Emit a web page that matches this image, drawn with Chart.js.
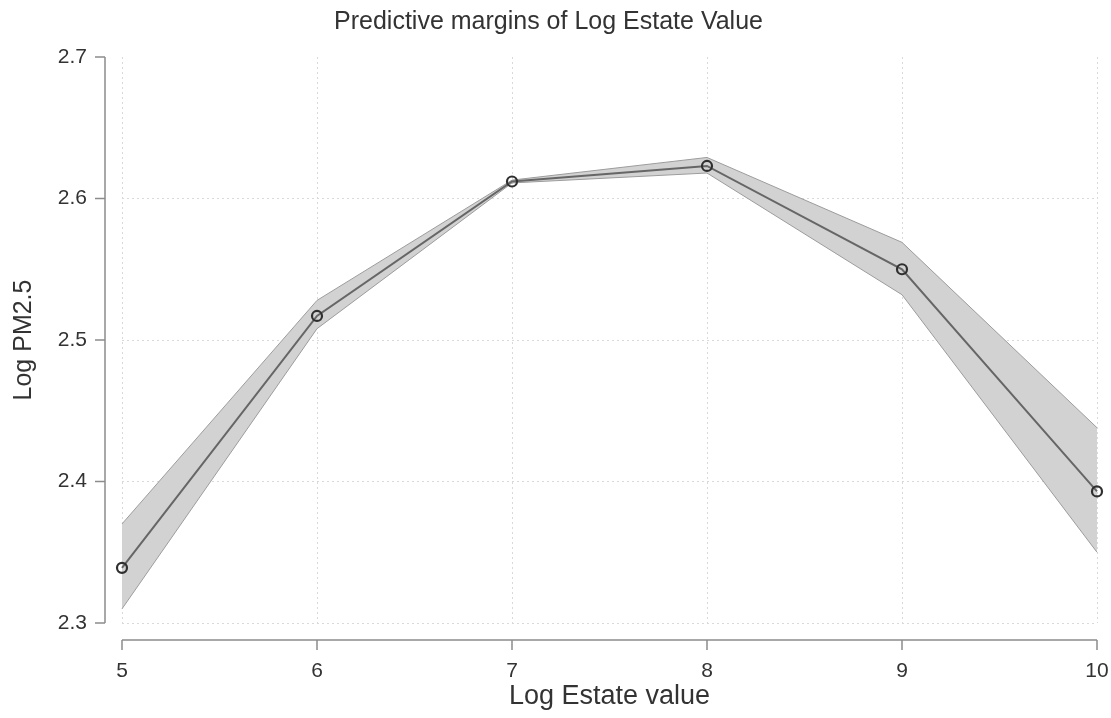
<!DOCTYPE html>
<html>
<head>
<meta charset="utf-8">
<script src="https://cdn.jsdelivr.net/npm/chart.js@4"></script>
<style>
  html, body { margin: 0; padding: 0; background: #fff; }
  #wrap { width: 1111px; height: 718px; }
</style>
</head>
<body>
<div id="wrap"><canvas id="c"></canvas></div>
<script>
const estateValues = [5, 6, 7, 8, 9, 10]
const margin = [2.339, 2.517, 2.612, 2.623, 2.550, 2.393]
const upperCI = [2.370, 2.528, 2.613, 2.629, 2.569, 2.438]
const lowerCI = [2.310, 2.508, 2.611, 2.618, 2.532, 2.350]
const yTicks = [2.3, 2.4, 2.5, 2.6, 2.7]
const xTicks = [5, 6, 7, 8, 9, 10]

const font = 'Arial, "Liberation Sans", sans-serif'
const axisColor = '#8c8c8c'
const gridColor = '#d9d9d9'
const pts = (vals) => estateValues.map((x, i) => ({ x: x, y: vals[i] }))

// Stata-like axes that sit a little away from the plot region
const offsetAxes = {
  id: 'offsetAxes',
  afterDraw(chart) {
    const { ctx, scales } = chart
    const xs = scales.x
    const ys = scales.y
    const gap = 17
    const tick = 10
    const ax = chart.chartArea.left - gap
    const ay = chart.chartArea.bottom + gap
    ctx.save()
    ctx.strokeStyle = axisColor
    ctx.lineWidth = 1.5
    ctx.beginPath()
    ctx.moveTo(ax, ys.getPixelForValue(yTicks[0]))
    ctx.lineTo(ax, ys.getPixelForValue(yTicks[yTicks.length - 1]))
    for (const v of yTicks) {
      const py = ys.getPixelForValue(v)
      ctx.moveTo(ax, py)
      ctx.lineTo(ax - tick, py)
    }
    ctx.moveTo(xs.getPixelForValue(xTicks[0]), ay)
    ctx.lineTo(xs.getPixelForValue(xTicks[xTicks.length - 1]), ay)
    for (const v of xTicks) {
      const px = xs.getPixelForValue(v)
      ctx.moveTo(px, ay)
      ctx.lineTo(px, ay + tick)
    }
    ctx.stroke()
    ctx.restore()
  },
}

new Chart(document.getElementById('c'), {
  type: 'line',
  data: {
    datasets: [
      {
        label: 'upper',
        data: pts(upperCI),
        borderColor: '#9c9c9c',
        borderWidth: 1,
        backgroundColor: '#d2d2d2',
        fill: '+1',
        pointRadius: 0,
        tension: 0,
        order: 2,
      },
      {
        label: 'lower',
        data: pts(lowerCI),
        borderColor: '#9c9c9c',
        borderWidth: 1,
        pointRadius: 0,
        fill: false,
        tension: 0,
        order: 1,
      },
      {
        label: 'margin',
        data: pts(margin),
        borderColor: '#666',
        borderWidth: 2,
        pointRadius: 5,
        pointBorderWidth: 2.2,
        pointBorderColor: '#2f2f2f',
        pointBackgroundColor: 'rgba(0,0,0,0)',
        fill: false,
        tension: 0,
        order: 0,
      },
    ],
  },
  options: {
    responsive: true,
    maintainAspectRatio: false,
    animation: false,
    clip: false,
    layout: { padding: { left: 0, right: 14, top: 0, bottom: 0 } },
    plugins: {
      legend: { display: false },
      tooltip: { enabled: false },
      title: {
        display: true,
        text: 'Predictive margins of Log Estate Value',
        color: '#333',
        font: { family: font, size: 25, weight: 'normal', lineHeight: 1.2 },
        padding: { top: 7, bottom: 20 },
      },
    },
    scales: {
      x: {
        type: 'linear',
        min: 5,
        max: 10,
        afterFit(scale) {
          scale.height = 95
          scale.paddingLeft = 0
          scale.paddingRight = 0
        },
        afterBuildTicks(scale) { scale.ticks = xTicks.map((v) => ({ value: v })) },
        border: { display: false, dash: [2, 3] },
        grid: { color: gridColor, drawTicks: false },
        ticks: {
          color: '#333',
          padding: 36,
          font: { family: font, size: 21 },
        },
        title: {
          display: true,
          text: 'Log Estate value',
          color: '#333',
          font: { family: font, size: 27 },
          padding: { top: 0, bottom: 5 },
        },
      },
      y: {
        min: 2.3,
        max: 2.7,
        afterFit(scale) {
          scale.width = 122
          scale.paddingTop = 0
          scale.paddingBottom = 0
        },
        afterBuildTicks(scale) { scale.ticks = yTicks.map((v) => ({ value: v })) },
        border: { display: false, dash: [2, 3] },
        grid: {
          color: (c) => (c.tick && c.tick.value >= 2.7 ? 'rgba(0,0,0,0)' : gridColor),
          drawTicks: false,
        },
        ticks: {
          color: '#333',
          padding: 35,
          font: { family: font, size: 21 },
          callback: (v) => Number(v).toFixed(1),
        },
        title: {
          display: true,
          text: 'Log PM2.5',
          color: '#333',
          font: { family: font, size: 25 },
          padding: { top: 9, bottom: 0 },
        },
      },
    },
  },
  plugins: [offsetAxes],
})
</script>
</body>
</html>
